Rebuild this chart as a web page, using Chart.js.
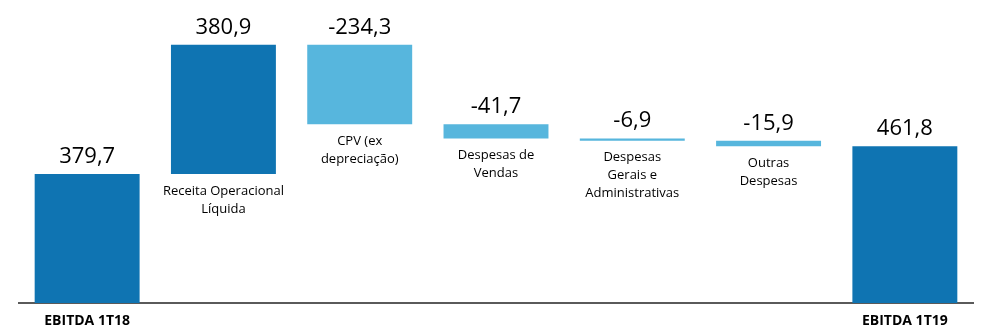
<!DOCTYPE html>
<html>
<head>
<meta charset="utf-8">
<script src="https://cdn.jsdelivr.net/npm/chart.js@4.4.1/dist/chart.umd.min.js"></script>
<style>
  html, body { margin: 0; padding: 0; background: #fff; }
  #wrap { width: 988px; height: 336px; }
</style>
</head>
<body>
<div id="wrap"><canvas id="waterfall"></canvas></div>
<script>
const categories = ['EBITDA 1T18', 'Receita Operacional Líquida', 'CPV (ex depreciação)', 'Despesas de Vendas', 'Despesas Gerais e Administrativas', 'Outras Despesas', 'EBITDA 1T19'];
const stepValues = [379.7, 380.9, -234.3, -41.7, -6.9, -15.9, 461.8];
const isTotal = [true, false, false, false, false, false, true];
const innerLabels = [
    null,
    ['Receita Operacional', 'Líquida'],
    ['CPV (ex', 'depreciação)'],
    ['Despesas de', 'Vendas'],
    ['Despesas', 'Gerais e', 'Administrativas'],
    ['Outras', 'Despesas'],
    null
];

const darkBlue = '#0f74b2';
const lightBlue = '#57b6dd';

// build floating bars [start, end]
let running = 0;
const floating = stepValues.map((v, i) => {
    if (isTotal[i]) {
        running = v;
        return [0, v];
    }
    const start = running;
    running += v;
    return [start, running];
});
const colors = stepValues.map(v => v >= 0 ? darkBlue : lightBlue);

const fmt = v => v.toFixed(1).replace('.', ',');

const barLabels = {
    id: 'barLabels',
    afterDatasetsDraw(chart) {
        const ctx = chart.ctx;
        const meta = chart.getDatasetMeta(0);
        ctx.save();
        ctx.fillStyle = '#000';
        ctx.textAlign = 'center';
        meta.data.forEach((bar, i) => {
            const top = Math.min(bar.y, bar.base);
            const bottom = Math.max(bar.y, bar.base);
            ctx.font = '22px "Open Sans"';
            ctx.textBaseline = 'alphabetic';
            ctx.fillText(fmt(stepValues[i]), bar.x, top - 11);
            const lines = innerLabels[i];
            if (lines) {
                ctx.font = '13px "Open Sans"';
                ctx.textBaseline = 'middle';
                lines.forEach((ln, k) => {
                    ctx.fillText(ln, bar.x, bottom + 17 + k * 18);
                });
            }
        });
        ctx.restore();
    }
};

new Chart(document.getElementById('waterfall'), {
    type: 'bar',
    data: {
        labels: categories,
        datasets: [{
            data: floating,
            backgroundColor: colors,
            borderWidth: 0,
            barPercentage: 0.77,
            categoryPercentage: 1
        }]
    },
    options: {
        responsive: true,
        maintainAspectRatio: false,
        animation: false,
        layout: { padding: { left: 19, right: 15, top: 0, bottom: 0 } },
        scales: {
            x: {
                grid: { display: false, drawTicks: false },
                border: { display: true, color: '#5a5a5a', width: 2 },
                ticks: {
                    padding: 10,
                    color: '#000',
                    font: { family: '"Open Sans"', size: 14, weight: 'bold' },
                    maxRotation: 0,
                    autoSkip: false,
                    callback: function (val, idx) {
                        return isTotal[idx] ? categories[idx] : '';
                    }
                },
                afterFit: scale => { scale.height = 33; }
            },
            y: {
                display: false,
                min: 0,
                max: 892
            }
        },
        plugins: {
            legend: { display: false },
            tooltip: { enabled: false }
        }
    },
    plugins: [barLabels]
});
</script>
</body>
</html>
